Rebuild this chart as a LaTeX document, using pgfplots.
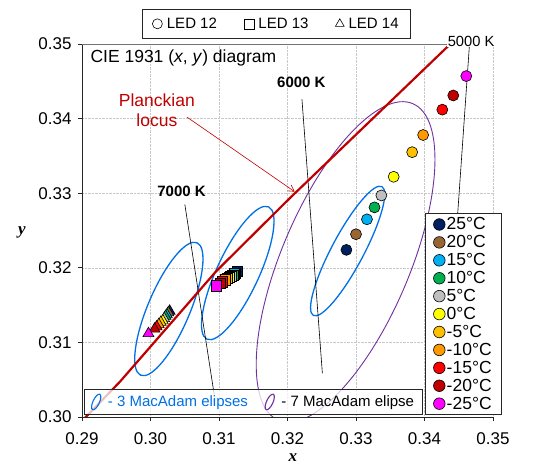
\documentclass[border=0pt]{standalone}
\usepackage{fontspec}
\setmainfont{Liberation Sans}
\newfontfamily\timesfont{Liberation Serif}
\usepackage{pgfplots}
\usepackage{pgfplotstable}
\pgfplotsset{compat=1.18}
\usetikzlibrary{arrows.meta}

\definecolor{c25}{RGB}{0,32,96}
\definecolor{c20}{RGB}{153,102,51}
\definecolor{c15}{RGB}{0,176,240}
\definecolor{c10}{RGB}{0,176,80}
\definecolor{c5}{RGB}{191,191,191}
\definecolor{c0}{RGB}{255,255,0}
\definecolor{cm5}{RGB}{255,192,0}
\definecolor{cm10}{RGB}{255,153,0}
\definecolor{cm15}{RGB}{255,0,0}
\definecolor{cm20}{RGB}{192,0,0}
\definecolor{cm25}{RGB}{255,0,255}
\definecolor{locus}{RGB}{192,0,0}
\definecolor{mablue}{RGB}{0,112,230}
\definecolor{mapurple}{RGB}{112,48,160}

% t = temperature class
\pgfplotstableread{
x       y       t
0.3286  0.3224  p25
0.3300  0.3245  p20
0.3316  0.3265  p15
0.3327  0.3281  p10
0.3337  0.3297  p5
0.3355  0.3322  p0
0.3382  0.3355  m5
0.3398  0.3378  m10
0.3426  0.3412  m15
0.3442  0.3431  m20
0.3461  0.3457  m25
}\ledtwelve
\pgfplotstableread{
x       y       t
0.3127  0.3195  p25
0.3124  0.3193  p20
0.3122  0.3192  p15
0.3120  0.3190  p10
0.3117  0.3189  p5
0.3115  0.3187  p0
0.3112  0.3186  m5
0.3109  0.3184  m10
0.3105  0.3181  m15
0.3102  0.3179  m20
0.3096  0.3176  m25
}\ledthirteen
\pgfplotstableread{
x       y       t
0.3028  0.3142  p25
0.3026  0.3140  p20
0.3024  0.3137  p15
0.3022  0.3135  p10
0.3020  0.3132  p5
0.3018  0.3129  p0
0.3015  0.3127  m5
0.3012  0.3124  m10
0.3009  0.3121  m15
0.3006  0.3118  m20
0.2997  0.3112  m25
}\ledfourteen

\pgfplotsset{
  tempentry/.style={only marks, mark=*, mark size=5.8pt,
    mark options={draw=black, line width=0.6pt, fill=#1},
    legend image code/.code={\draw[##1] plot coordinates {(0pt,0pt)};}},
  ledentry/.style={only marks, mark=#1, mark size=5pt, black,
    mark options={line width=0.6pt},
    legend image code/.code={\draw[##1] plot coordinates {(0pt,0pt)};}},
  ellentry/.style={#1, line width=1.1pt,
    legend image code/.code={\draw[##1, rotate=-25] (0pt,0pt) ellipse [x radius=3.2pt, y radius=8.5pt];}},
  ledscatter/.style={scatter, only marks, mark=#1, forget plot,
    scatter src=explicit symbolic, line width=0.6pt,
    scatter/classes={
      p25={draw=black, fill=c25}, p20={draw=black, fill=c20},
      p15={draw=black, fill=c15}, p10={draw=black, fill=c10},
      p5={draw=black, fill=c5}, p0={draw=black, fill=c0},
      m5={draw=black, fill=cm5}, m10={draw=black, fill=cm10},
      m15={draw=black, fill=cm15}, m20={draw=black, fill=cm20},
      m25={draw=black, fill=cm25}}},
}

\begin{document}
\begin{tikzpicture}
\useasboundingbox (-82pt,-51pt) rectangle (453pt,417pt);
\begin{axis}[
    scale only axis, width=411pt, height=373pt,
    xmin=0.29, xmax=0.35, ymin=0.30, ymax=0.35,
    axis x line*=bottom, axis y line*=left,
    axis line style={black!85, line width=0.8pt},
    xtick={0.29,0.30,0.31,0.32,0.33,0.34,0.35},
    ytick={0.30,0.31,0.32,0.33,0.34,0.35},
    tick align=outside, major tick length=4pt,
    tick style={black!85, line width=0.8pt},
    /pgf/number format/.cd, fixed, fixed zerofill, precision=2, assume math mode=true,
    /pgfplots/.cd,
    tick label style={font=\fontsize{17}{17}\selectfont},
    xticklabel style={yshift=-8pt},
    yticklabel style={xshift=-3pt},
    grid=major,
    grid style={densely dotted, black!22, line width=0.6pt},
    xlabel={\timesfont\bfseries\itshape x},
    ylabel={\timesfont\bfseries\itshape y},
    label style={font=\fontsize{17}{17}\selectfont},
    xlabel style={at={(axis description cs:0.513,-0.11)}, anchor=center},
    ylabel style={at={(axis description cs:-0.146,0.496)}, anchor=center, rotate=-90},
    legend style={at={(0.8345,0.547)}, anchor=north west, draw=black!85,
      line width=1.1pt, fill=white, font=\fontsize{17.5}{17.5}\selectfont,
      inner xsep=8pt, inner ysep=2.5pt, row sep=1pt,
      nodes={inner sep=1.6pt, text depth=0.15em}},
    legend cell align=left,
]
% MacAdam ellipses
\draw[mablue, line width=1.3pt, rotate around={67:(axis cs:0.30268,0.31448)}]
  (axis cs:0.30268,0.31448) ellipse [x radius=72pt, y radius=21pt];
\draw[mablue, line width=1.3pt, rotate around={65:(axis cs:0.31274,0.3193)}]
  (axis cs:0.31274,0.3193) ellipse [x radius=73pt, y radius=21pt];
\draw[mablue, line width=1.3pt, rotate around={62:(axis cs:0.32878,0.32225)}]
  (axis cs:0.32878,0.32225) ellipse [x radius=73pt, y radius=16pt];
\draw[mapurple, line width=0.9pt, rotate around={67:(axis cs:0.32848,0.32078)}]
  (axis cs:0.32848,0.32078) ellipse [x radius=172pt, y radius=64pt];

% isotherms
\addplot[black, line width=0.6pt, forget plot] coordinates {(0.30501,0.32851) (0.3093,0.3030)};
\addplot[black, line width=0.6pt, forget plot] coordinates {(0.32211,0.34259) (0.32509,0.30586)};
\addplot[black, line width=0.6pt, forget plot] coordinates {(0.34656,0.34987) (0.34485,0.32731)};

% Planckian locus
\addplot[locus, line width=2.2pt, forget plot] coordinates {
  (0.2895,0.2990) (0.29554,0.30473) (0.30953,0.31948) (0.32032,0.32932) (0.34408,0.35027) (0.3460,0.3519)};

% LED data
\addplot[ledscatter=triangle*, mark size=6.3pt] table[x=x, y=y, meta=t] {\ledfourteen};
\addplot[ledscatter=square*, mark size=5.2pt] table[x=x, y=y, meta=t] {\ledthirteen};
\addplot[ledscatter=*, mark size=5.5pt] table[x=x, y=y, meta=t] {\ledtwelve};

% annotations
\node[anchor=west, font=\fontsize{17.5}{17.5}\selectfont] at (axis cs:0.29073,0.34812)
  {CIE 1931 (\textit{x}, \textit{y}) diagram};
\node[align=center, text=locus, font=\fontsize{17.5}{20}\selectfont] at (axis cs:0.30093,0.34115)
  {Planckian\\locus};
\draw[locus, line width=0.6pt, -{Straight Barb[length=6pt, width=7pt]}]
  (axis cs:0.30531,0.34021) -- (axis cs:0.32105,0.3302);
\node[font=\fontsize{15}{15}\selectfont\bfseries] at (axis cs:0.30453,0.3302) {7000 K};
\node[font=\fontsize{15}{15}\selectfont\bfseries] at (axis cs:0.32203,0.34487) {6000 K};
\coordinate (k5000) at (axis cs:0.3468,0.3504);

\addlegendimage{tempentry=c25}\addlegendentry{25°C}
\addlegendimage{tempentry=c20}\addlegendentry{20°C}
\addlegendimage{tempentry=c15}\addlegendentry{15°C}
\addlegendimage{tempentry=c10}\addlegendentry{10°C}
\addlegendimage{tempentry=c5}\addlegendentry{5°C}
\addlegendimage{tempentry=c0}\addlegendentry{0°C}
\addlegendimage{tempentry=cm5}\addlegendentry{-5°C}
\addlegendimage{tempentry=cm10}\addlegendentry{-10°C}
\addlegendimage{tempentry=cm15}\addlegendentry{-15°C}
\addlegendimage{tempentry=cm20}\addlegendentry{-20°C}
\addlegendimage{tempentry=cm25}\addlegendentry{-25°C}
\end{axis}

% top border line and 5000 K label
\draw[black!55, line width=0.7pt] (0pt,373pt) -- (366pt,373pt);
\node[font=\fontsize{14.7}{14.7}\selectfont, fill=white, inner sep=0.5pt] at (k5000) {5000 K};

% LED legend
\begin{axis}[
    scale only axis, width=411pt, height=373pt, hide axis,
    xmin=0, xmax=1, ymin=0, ymax=1,
    legend columns=3,
    legend style={at={(0.146,1.094)}, anchor=north west, draw=black!85,
      line width=0.8pt, fill=white, font=\fontsize{15}{15}\selectfont,
      inner xsep=10pt, inner ysep=6.5pt,
      nodes={inner sep=2pt, text depth=0.15em},
      /tikz/every odd column/.append style={column sep=2.5pt},
      /tikz/every even column/.append style={column sep=25pt}},
]
\addlegendimage{ledentry=o}\addlegendentry{LED 12}
\addlegendimage{ledentry=square}\addlegendentry{LED 13}
\addlegendimage{ledentry=triangle}\addlegendentry{LED 14}
\end{axis}

% ellipse legend
\begin{axis}[
    scale only axis, width=411pt, height=373pt, hide axis,
    xmin=0, xmax=1, ymin=0, ymax=1,
    legend columns=2,
    legend style={at={(0.005,0.005)}, anchor=south west, draw=black!85,
      line width=0.8pt, fill=white, fill opacity=0.75, text opacity=1, draw opacity=1,
      font=\fontsize{15}{15}\selectfont,
      inner xsep=6pt, inner ysep=4.5pt,
      nodes={inner sep=2pt, text depth=0.15em},
      /tikz/every odd column/.append style={column sep=4pt},
      /tikz/every even column/.append style={column sep=14pt}},
]
\addlegendimage{ellentry=mablue}\addlegendentry{\textcolor{mablue}{- 3 MacAdam elipses}}
\addlegendimage{ellentry=mapurple}\addlegendentry{- 7 MacAdam elipse}
\end{axis}
\end{tikzpicture}
\end{document}
